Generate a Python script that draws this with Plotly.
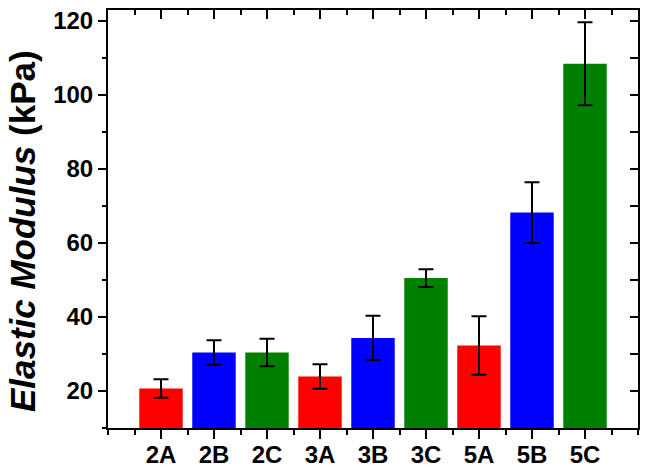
import plotly.graph_objects as go

categories = ["2A", "2B", "2C", "3A", "3B", "3C", "5A", "5B", "5C"]
values = [20.7, 30.4, 30.4, 23.9, 34.3, 50.5, 32.3, 68.2, 108.4]
errors = [2.5, 3.3, 3.7, 3.3, 6.0, 2.4, 7.9, 8.2, 11.2]
colors = ["#FF0000", "#0000FF", "#008000"] * 3
y_title = "<i>Elastic Modulus</i> (kPa)"

xpos = list(range(len(categories)))
font_family = "Liberation Sans, Arial, sans-serif"

fig = go.Figure()
fig.add_trace(go.Bar(
    x=xpos, y=values, width=0.82,
    marker=dict(color=colors, line=dict(width=0)),
    error_y=dict(type="data", array=errors, visible=True,
                 color="black", thickness=2, width=7.5),
    showlegend=False,
))
# invisible trace to activate mirrored axes
fig.add_trace(go.Scatter(x=[xpos[0]], y=[values[0]], xaxis="x2", yaxis="y2",
                         mode="markers", marker=dict(opacity=0), showlegend=False,
                         hoverinfo="skip"))

axis_common = dict(showline=True, linecolor="black", linewidth=2, automargin=False,
                   showgrid=False, zeroline=False, tickcolor="black", tickwidth=2)

fig.update_layout(
    width=649, height=472,
    margin=dict(l=108, r=11, t=10, b=44),
    plot_bgcolor="white", paper_bgcolor="white",
    font=dict(family=font_family, color="black"),
    xaxis=dict(range=[-1, 9], tickmode="array", tickvals=xpos, ticktext=categories,
               ticks="outside", ticklen=9, ticklabelstandoff=-5,
               minor=dict(ticks="outside", ticklen=5, dtick=0.5, tick0=0.5,
                          tickcolor="black", tickwidth=2),
               tickfont=dict(size=24, family=font_family, weight="bold"),
               **axis_common),
    yaxis=dict(range=[10, 122.9], tick0=20, dtick=20, tickmode="linear",
               ticks="outside", ticklen=8,
               minor=dict(ticks="outside", ticklen=4, dtick=10, tick0=10,
                          tickcolor="black", tickwidth=2),
               tickfont=dict(size=24, family=font_family, weight="bold"),
               **axis_common),
    xaxis2=dict(overlaying="x", side="top", range=[-1, 9], tickmode="array",
                tickvals=xpos, ticks="inside", ticklen=9, showticklabels=False,
                minor=dict(ticks="inside", ticklen=5, dtick=0.5, tick0=0.5,
                           tickcolor="black", tickwidth=2),
                **axis_common),
    yaxis2=dict(overlaying="y", side="right", range=[10, 122.9], tick0=20, dtick=20,
                tickmode="linear", ticks="inside", ticklen=8, showticklabels=False,
                minor=dict(ticks="inside", ticklen=8, dtick=10, tick0=10,
                           tickcolor="black", tickwidth=2),
                **axis_common),
    annotations=[dict(text=y_title, textangle=-90, showarrow=False,
                      xref="paper", yref="paper", x=0, y=0.471,
                      xanchor="center", yanchor="middle", xshift=-86,
                      font=dict(size=35, family=font_family, weight="bold"))],
)

fig.write_html("out.html", config={"displayModeBar": False},
               post_script="document.body.style.margin='0';")
